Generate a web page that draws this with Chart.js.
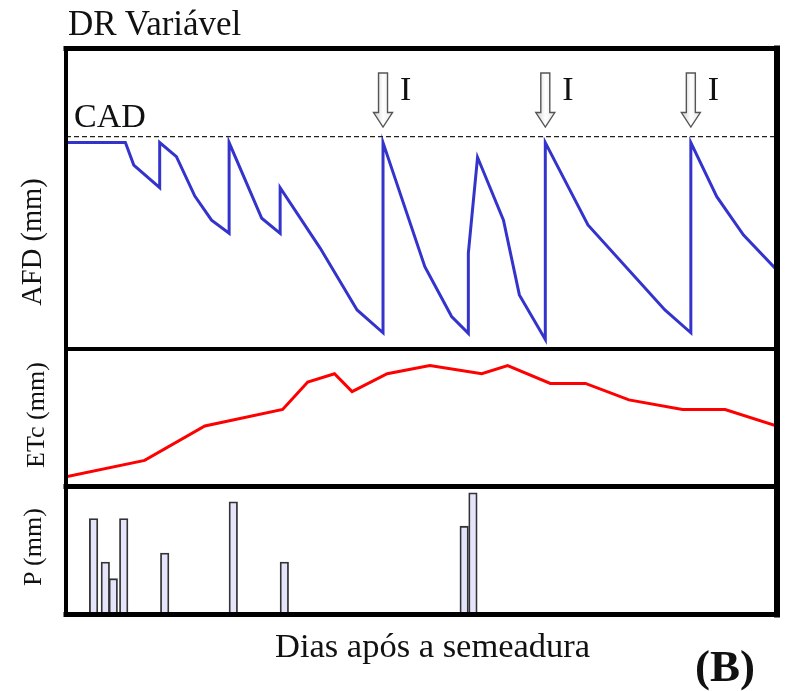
<!DOCTYPE html>
<html>
<head>
<meta charset="utf-8">
<title>DR Variável</title>
<script src="https://cdn.jsdelivr.net/npm/chart.js@4.4.1/dist/chart.umd.min.js"></script>
<style>
    body { margin: 0; background: #fff; }
    #wrap { position: relative; width: 786px; height: 691px; overflow: hidden; }
    #wrap canvas { position: absolute; left: 0; top: 0; }
    .lbl {
        position: absolute;
        font-family: "Liberation Serif", "Times New Roman", serif;
        color: #111;
        line-height: 1;
        white-space: nowrap;
    }
    .rot { transform: translate(-50%, -50%) rotate(-90deg); }
</style>
</head>
<body>
<div id="wrap">
    <canvas id="grafico" width="786" height="691"></canvas>
    <div class="lbl" style="left:68px; top:5.5px; font-size:35px;">DR Variável</div>
    <div class="lbl" style="left:74px; top:99px; font-size:34px;">CAD</div>
    <div class="lbl rot" style="left:32px; top:242px; font-size:28.5px;">AFD (mm)</div>
    <div class="lbl rot" style="left:36px; top:415px; font-size:26px;">ETc (mm)</div>
    <div class="lbl rot" style="left:33px; top:547px; font-size:26px;">P (mm)</div>
    <div class="lbl" style="left:275px; top:628px; font-size:34.5px;">Dias após a semeadura</div>
    <div class="lbl" style="left:695px; top:644px; font-size:45px; font-weight:bold;">(B)</div>
</div>
<script>
// ---- dados (dias após a semeadura) ----

// painel superior: água facilmente disponível
const afdDias = [0, 7.1, 8.1, 11.2, 11.2, 13.2, 15.4, 17.4, 19.5, 19.5, 23.4, 25.6, 25.6,
    30.4, 34.8, 37.9, 37.9, 42.9, 46.1, 48.1, 48.1, 49.2, 52.3, 54.2, 57.3, 57.3,
    62.4, 71.6, 74.7, 74.7, 77.8, 81.0, 85];
const afdValores = [68.7, 68.7, 61.2, 53.7, 68.7, 64.0, 50.9, 42.9, 38.5, 68.7, 43.5, 38.5, 53.7,
    33.5, 13.0, 5.4, 68.7, 27.4, 10.8, 5.2, 31.9, 63.8, 42.9, 18.0, 3.2, 68.7,
    41.3, 13.0, 5.4, 68.7, 50.7, 37.9, 26.2];
const cad = 70.7;
const irrigacaoDias = [37.9, 57.3, 74.7];

// painel do meio: evapotranspiração da cultura
const etcDias = [0, 9.4, 16.6, 25.9, 28.9, 32.1, 34.2, 38.4, 43.5, 49.7, 52.8, 57.9, 62.1, 67.3, 73.7, 78.8, 85];
const etcValores = [0.7, 1.9, 4.4, 5.6, 7.6, 8.2, 6.9, 8.2, 8.8, 8.2, 8.8, 7.5, 7.5, 6.3, 5.6, 5.6, 4.4];

// painel inferior: precipitação
const chuvaDias = [3.3, 4.7, 5.65, 6.9, 11.8, 20.0, 26.1, 47.6, 48.65];
const chuvaMm = [7.5, 4.1, 2.8, 7.5, 4.8, 8.8, 4.1, 6.9, 9.5];

const pontos = (xs, ys) => xs.map((x, i) => ({ x: x, y: ys[i] }));

// setas de irrigação e moldura dos três painéis
const moldura = {
    id: 'moldura',
    afterDatasetsDraw(chart) {
        const { ctx, chartArea: a, scales } = chart;
        const yCad = scales.yAfd.getPixelForValue(cad);
        ctx.save();

        irrigacaoDias.forEach(d => {
            const x = scales.x.getPixelForValue(d);
            const ponta = yCad - 9.5;
            const topo = yCad - 63.5;
            const base = yCad - 24;
            ctx.beginPath();
            ctx.moveTo(x - 4.5, topo);
            ctx.lineTo(x + 4.5, topo);
            ctx.lineTo(x + 4.5, base);
            ctx.lineTo(x + 9.5, base);
            ctx.lineTo(x, ponta);
            ctx.lineTo(x - 9.5, base);
            ctx.lineTo(x - 4.5, base);
            ctx.closePath();
            const g = ctx.createLinearGradient(x - 9, 0, x + 9, 0);
            g.addColorStop(0, '#d0d0d0');
            g.addColorStop(0.5, '#ffffff');
            g.addColorStop(1, '#e8e8e8');
            ctx.fillStyle = g;
            ctx.fill();
            ctx.strokeStyle = '#555';
            ctx.lineWidth = 1.4;
            ctx.stroke();
        });

        ctx.strokeStyle = '#000';
        ctx.lineCap = 'square';
        const linha = (x1, y1, x2, y2, w) => {
            ctx.lineWidth = w;
            ctx.beginPath();
            ctx.moveTo(x1, y1);
            ctx.lineTo(x2, y2);
            ctx.stroke();
        };
        linha(a.left, a.top, a.right, a.top, 5);
        linha(a.left, a.bottom, a.right, a.bottom, 5);
        linha(a.left, a.top, a.left, a.bottom, 4);
        linha(a.right, a.top, a.right, a.bottom, 6);
        linha(a.left, scales.yAfd.bottom, a.right, scales.yAfd.bottom, 4);
        linha(a.left, scales.yEtc.bottom, a.right, scales.yEtc.bottom, 5);
        ctx.restore();
    }
};

const grafico = new Chart(document.getElementById('grafico'), {
    data: {
        datasets: [
            {
                type: 'line',
                label: 'CAD',
                data: pontos([0, 85], [cad, cad]),
                yAxisID: 'yAfd',
                borderColor: '#222',
                borderWidth: 1.2,
                borderDash: [5, 3],
                pointRadius: 0
            },
            {
                type: 'line',
                label: 'AFD',
                data: pontos(afdDias, afdValores),
                yAxisID: 'yAfd',
                borderColor: '#3434cc',
                borderWidth: 3,
                pointRadius: 0,
                tension: 0
            },
            {
                type: 'line',
                label: 'ETc',
                data: pontos(etcDias, etcValores),
                yAxisID: 'yEtc',
                borderColor: '#ff0000',
                borderWidth: 3,
                pointRadius: 0,
                tension: 0
            },
            {
                type: 'bar',
                label: 'P',
                data: pontos(chuvaDias, chuvaMm),
                yAxisID: 'yP',
                backgroundColor: '#e4e4fa',
                borderColor: '#333',
                borderWidth: 1.8,
                barThickness: 8.5
            }
        ]
    },
    options: {
        responsive: false,
        animation: false,
        devicePixelRatio: 1,
        layout: { padding: { left: 66, right: 9, top: 48.5, bottom: 76.5 } },
        plugins: {
            legend: { display: false },
            tooltip: { enabled: false }
        },
        scales: {
            x: { type: 'linear', min: 0, max: 85, offset: false, display: false },
            yAfd: { type: 'linear', min: 0, max: 100, display: false, position: 'left', stack: 'paineis', stackWeight: 300.5, weight: 3 },
            yEtc: { type: 'linear', min: 0, max: 10, display: false, position: 'left', stack: 'paineis', stackWeight: 137.5, weight: 2 },
            yP: { type: 'linear', min: 0, max: 10, display: false, position: 'left', stack: 'paineis', stackWeight: 128, weight: 1 }
        }
    },
    plugins: [moldura]
});

// rótulos "I" ao lado das setas
const wrap = document.getElementById('wrap');
irrigacaoDias.forEach(d => {
    const el = document.createElement('div');
    el.className = 'lbl';
    el.style.fontSize = '34px';
    el.style.left = (grafico.scales.x.getPixelForValue(d) + 17) + 'px';
    el.style.top = '71.5px';
    el.textContent = 'I';
    wrap.appendChild(el);
});
</script>
</body>
</html>
